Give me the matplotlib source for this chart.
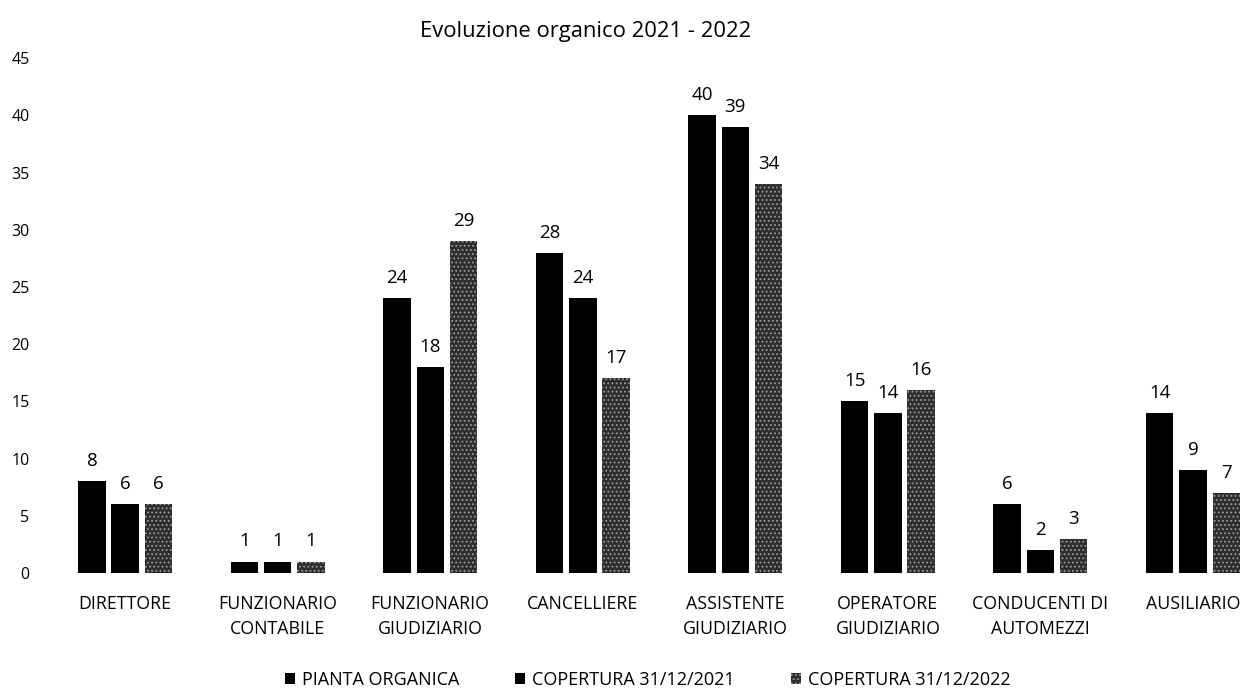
import matplotlib.pyplot as plt
import numpy as np

plt.rcParams['font.family'] = ['Open Sans', 'DejaVu Sans']

categories = ['DIRETTORE', 'FUNZIONARIO\nCONTABILE', 'FUNZIONARIO\nGIUDIZIARIO', 'CANCELLIERE',
              'ASSISTENTE\nGIUDIZIARIO', 'OPERATORE\nGIUDIZIARIO', 'CONDUCENTI DI\nAUTOMEZZI', 'AUSILIARIO']
pianta = [8, 1, 24, 28, 40, 15, 6, 14]
cop_2021 = [6, 1, 18, 24, 39, 14, 2, 9]
cop_2022 = [6, 1, 29, 17, 34, 16, 3, 7]
series_names = ['PIANTA ORGANICA', 'COPERTURA 31/12/2021', 'COPERTURA 31/12/2022']

fig = plt.figure(figsize=(12.53, 6.92), dpi=100)
ax = fig.add_axes([0.039, 0.172, 0.974, 0.744])

x = np.arange(len(categories))
w = 0.18
step = 0.218
plt.rcParams['hatch.color'] = '#9a9a9a'
plt.rcParams['hatch.linewidth'] = 0.8
b1 = ax.bar(x - step, pianta, w, color='black', label=series_names[0])
b2 = ax.bar(x, cop_2021, w, color='black', label=series_names[1])
b3 = ax.bar(x + step, cop_2022, w, color='#2e2e2e', hatch='....', edgecolor='#9a9a9a',
            linewidth=0, label=series_names[2])

for bars in (b1, b2, b3):
    ax.bar_label(bars, padding=8, fontsize=13.5)

ax.set_xlim(-0.5, len(categories) - 0.5)
ax.set_ylim(0, 45)
ax.set_yticks(range(0, 46, 5))
ax.set_xticks(x)
ax.set_xticklabels(categories, fontsize=12.8, linespacing=1.5)
ax.tick_params(axis='y', labelsize=11.5, length=0, pad=14)
ax.tick_params(axis='x', length=0, pad=16)
for s in ax.spines.values():
    s.set_visible(False)

fig.text(0.467, 0.955, 'Evoluzione organico 2021 - 2022', ha='center', va='center', fontsize=15.8)

fig.legend(handles=[b1, b2, b3], loc='center', bbox_to_anchor=(0.517, 0.017), ncol=3,
           frameon=False, fontsize=13, handlelength=0.55, handleheight=0.55,
           handletextpad=0.4, columnspacing=3.1)

fig.savefig('out.png', dpi=100)
